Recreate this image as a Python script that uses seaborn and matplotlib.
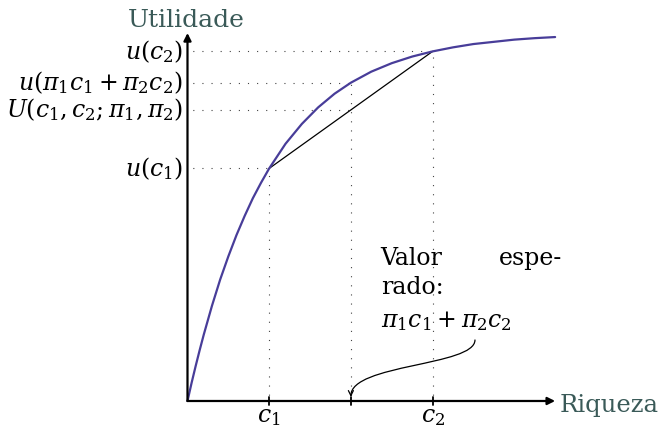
import matplotlib
matplotlib.use("Agg")
import matplotlib.pyplot as plt
from matplotlib.patches import FancyArrowPatch
from matplotlib.path import Path
import pandas as pd
import seaborn as sns

# Utility curve sampled along the wealth axis
wealth = [0.0, 0.05, 0.1, 0.15, 0.2, 0.3, 0.4, 0.5, 0.6, 0.7, 0.8, 0.9, 1.0,
          1.2, 1.4, 1.6, 1.8, 2.0, 2.25, 2.5, 2.75, 3.0, 3.25, 3.5, 3.75,
          4.0, 4.25, 4.5]
utility = [0.0, 0.049, 0.095, 0.139, 0.181, 0.259, 0.330, 0.393, 0.451,
           0.503, 0.551, 0.593, 0.632, 0.699, 0.753, 0.798, 0.835, 0.865,
           0.895, 0.918, 0.936, 0.950, 0.961, 0.970, 0.976, 0.982, 0.986,
           0.989]

# Lottery: two outcomes with their probabilities
c1, c2 = 1.0, 3.0
pi1, pi2 = 0.5, 0.5
u_c1, u_c2 = 0.632, 0.950
u_mean = 0.865                      # utility of the expected wealth
mean_wealth = pi1 * c1 + pi2 * c2
expected_u = pi1 * u_c1 + pi2 * u_c2

tick_labels = [r"$c_1$", r"$c_2$"]
level_labels = [r"$u(c_2)$", r"$u(\pi_1c_1+\pi_2c_2)$",
                r"$U(c_1,c_2;\pi_1,\pi_2)$", r"$u(c_1)$"]
y_title, x_title = "Utilidade", "Riqueza"

sns.set_theme(style="white")
plt.rcParams["font.family"] = ["DejaVu Serif"]
plt.rcParams["mathtext.fontset"] = "dejavuserif"
plt.rcParams["text.color"] = "black"

CURVE = "#483d99"
TITLE = "#3a5a58"
DOT = "#444444"

fig = plt.figure(figsize=(6.65, 4.28), dpi=100)
ax = fig.add_axes([0, 0, 1, 1])
ax.set_xlim(-2.295, 5.845)
ax.set_ylim(-0.0734, 1.0897)
ax.axis("off")

df = pd.DataFrame({"wealth": wealth, "utility": utility})
sns.lineplot(data=df, x="wealth", y="utility", ax=ax, color=CURVE, lw=1.6,
             sort=False, zorder=3)

# chord between the two outcomes
ax.plot([c1, c2], [u_c1, u_c2], color="black", lw=0.9, zorder=2)

# dotted guides
dots = dict(color=DOT, lw=0.8, linestyle=(3, (1, 7.2)), zorder=1)
for x, y in [(c1, u_c1), (mean_wealth, u_mean), (c2, u_c2)]:
    ax.plot([x, x], [0, y], **dots)
for x, y in [(c2, u_c2), (mean_wealth, u_mean), (mean_wealth, expected_u), (c1, u_c1)]:
    ax.plot([0, x], [y, y], **dots)

# axes with arrow heads
for end in [(4.5, 0.0), (0.0, 1.0)]:
    ax.add_patch(FancyArrowPatch((0, 0), end, arrowstyle="-|>", mutation_scale=11,
                                 lw=1.6, color="black", shrinkA=0, shrinkB=0, zorder=4))
for x in [c1, mean_wealth, c2]:
    ax.plot([x, x], [-0.011, 0.011], color="black", lw=1.3, zorder=4)

fs = 17
for x, lab in zip([c1, c2], tick_labels):
    ax.text(x, -0.057, lab, ha="center", va="baseline", fontsize=fs)
for y, lab in zip([u_c2, u_mean, expected_u, u_c1], level_labels):
    ax.text(-0.055, y, lab, ha="right", va="center", fontsize=fs)

ax.text(-0.012, 1.016, y_title, ha="center", va="baseline", fontsize=18, color=TITLE)
ax.text(4.56, -0.029, x_title, ha="left", va="baseline", fontsize=17.5, color=TITLE)

ax.text(2.365, 0.3696, "Valor", ha="left", va="baseline", fontsize=fs)
ax.text(4.584, 0.3696, "espe-", ha="right", va="baseline", fontsize=fs)
ax.text(2.365, 0.2908, "rado:", ha="left", va="baseline", fontsize=fs)
ax.text(2.365, 0.201, r"$\pi_1c_1+\pi_2c_2$", ha="left", va="baseline", fontsize=fs)

# curved pointer from the formula down to the expected wealth
verts = [(3.519, 0.1658), (3.519, 0.0951), (mean_wealth, 0.1005), (mean_wealth, 0.0109)]
codes = [Path.MOVETO, Path.CURVE4, Path.CURVE4, Path.CURVE4]
ax.add_patch(FancyArrowPatch(path=Path(verts, codes), arrowstyle="->", mutation_scale=9,
                             lw=0.9, color="black", zorder=4))

fig.savefig("out.png", dpi=100)
